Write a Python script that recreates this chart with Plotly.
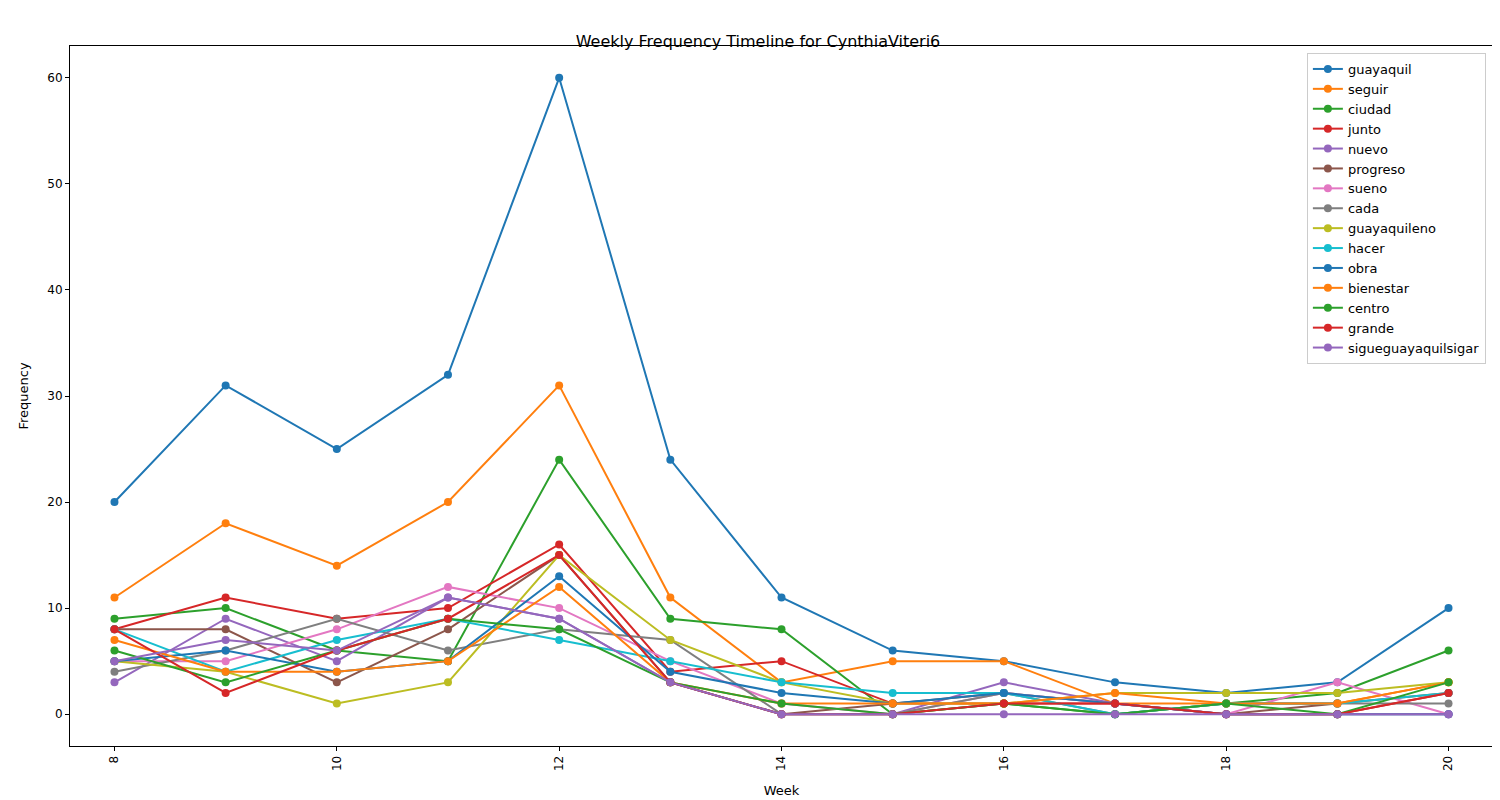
import plotly.graph_objects as go

weeks = [8, 9, 10, 11, 12, 13, 14, 15, 16, 17, 18, 19, 20]

guayaquil = [20, 31, 25, 32, 60, 24, 11, 6, 5, 3, 2, 3, 10]
seguir = [11, 18, 14, 20, 31, 11, 3, 5, 5, 1, 1, 1, 3]
ciudad = [9, 10, 6, 5, 24, 9, 8, 0, 1, 0, 1, 2, 6]
junto = [8, 11, 9, 10, 16, 4, 5, 1, 1, 1, 0, 0, 2]
nuevo = [3, 9, 5, 11, 9, 3, 0, 0, 3, 1, 0, 0, 0]
progreso = [8, 8, 3, 8, 15, 3, 0, 1, 2, 1, 0, 1, 2]
sueno = [5, 5, 8, 12, 10, 5, 1, 0, 2, 1, 0, 3, 0]
cada = [4, 6, 9, 6, 8, 7, 0, 0, 2, 0, 1, 1, 1]
guayaquileno = [5, 4, 1, 3, 15, 7, 3, 1, 1, 2, 2, 2, 3]
hacer = [8, 4, 7, 9, 7, 5, 3, 2, 2, 0, 1, 1, 2]
obra = [5, 6, 4, 5, 13, 4, 2, 1, 2, 1, 0, 0, 0]
bienestar = [7, 4, 4, 5, 12, 3, 1, 1, 1, 2, 1, 1, 3]
centro = [6, 3, 6, 9, 8, 3, 1, 0, 1, 0, 1, 0, 3]
grande = [8, 2, 6, 9, 15, 3, 0, 0, 1, 1, 0, 0, 2]
sigueguayaquilsigar = [5, 7, 6, 11, 9, 3, 0, 0, 0, 0, 0, 0, 0]

series = [
    ("guayaquil", guayaquil), ("seguir", seguir), ("ciudad", ciudad),
    ("junto", junto), ("nuevo", nuevo), ("progreso", progreso),
    ("sueno", sueno), ("cada", cada), ("guayaquileno", guayaquileno),
    ("hacer", hacer), ("obra", obra), ("bienestar", bienestar),
    ("centro", centro), ("grande", grande),
    ("sigueguayaquilsigar", sigueguayaquilsigar),
]
colors = ["#1f77b4", "#ff7f0e", "#2ca02c", "#d62728", "#9467bd", "#8c564b",
          "#e377c2", "#7f7f7f", "#bcbd22", "#17becf"]

fig = go.Figure()
for i, (name, vals) in enumerate(series):
    fig.add_trace(go.Scatter(
        x=weeks, y=vals, name=name, mode="lines+markers",
        line=dict(color=colors[i % 10], width=2),
        marker=dict(size=8, color=colors[i % 10]),
    ))

axis = dict(showline=True, linecolor="black", mirror=True, showgrid=False,
            zeroline=False, ticks="outside", ticklen=4, tickcolor="black",
            tickfont=dict(size=12, color="black"))
fig.update_layout(
    width=1500, height=800,
    paper_bgcolor="white", plot_bgcolor="white",
    font=dict(family="DejaVu Sans", size=12, color="black"),
    title=dict(text="Weekly Frequency Timeline for CynthiaViteri6", x=0.5,
               y=0.965, xanchor="center", font=dict(size=16)),
    margin=dict(l=62, r=15, t=38, b=62),
    xaxis=dict(axis, title=dict(text="Week", font=dict(size=13)),
               range=[7.6, 20.4], tickvals=[8, 10, 12, 14, 16, 18, 20],
               tickangle=-90),
    yaxis=dict(axis, title=dict(text="Frequency", font=dict(size=13)),
               range=[-3, 63], tickvals=[0, 10, 20, 30, 40, 50, 60]),
    legend=dict(x=0.995, y=0.99, xanchor="right", yanchor="top",
                bordercolor="#cccccc", borderwidth=1, bgcolor="white",
                font=dict(size=13), tracegroupgap=0),
)

fig.write_html("out.html")
